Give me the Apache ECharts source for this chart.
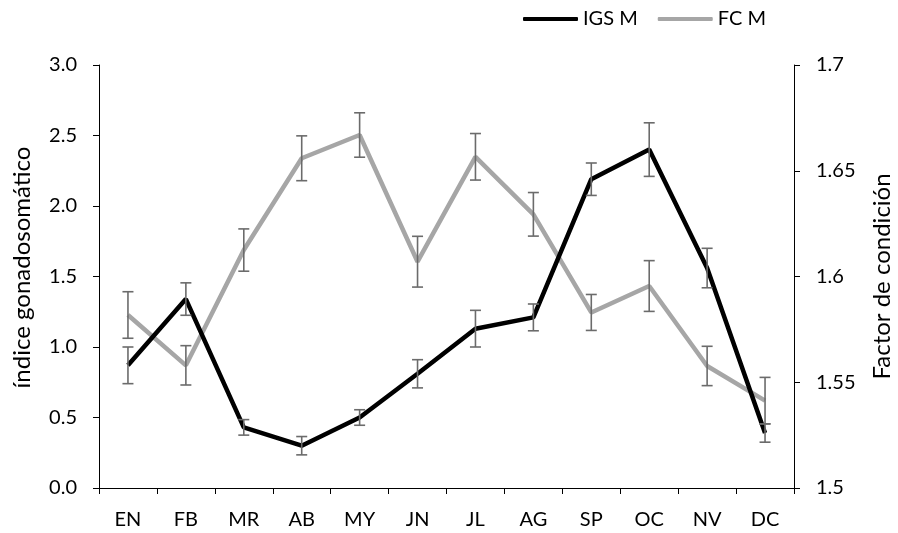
<!DOCTYPE html>
<html><head><meta charset="utf-8">
<script src="https://cdn.jsdelivr.net/npm/echarts@6/dist/echarts.min.js"></script>
<style>html,body{margin:0;padding:0;background:#fff}#c{width:898px;height:533px}</style>
</head><body><div id="c"></div>
<script>
var categories = ['EN','FB','MR','AB','MY','JN','JL','AG','SP','OC','NV','DC'];
var igsValues = [0.87, 1.34, 0.43, 0.30, 0.50, 0.81, 1.13, 1.21, 2.19, 2.40, 1.56, 0.39];
var igsErrors = [0.13, 0.115, 0.055, 0.065, 0.055, 0.10, 0.13, 0.095, 0.115, 0.19, 0.14, 0.065];
var fcValues = [1.5818, 1.558, 1.6125, 1.6559, 1.6669, 1.607, 1.6566, 1.6294, 1.583, 1.5955, 1.5577, 1.5413];
var fcErrors = [0.011, 0.0093, 0.010, 0.0106, 0.0105, 0.012, 0.011, 0.0103, 0.0085, 0.012, 0.0093, 0.011];
var leftTicks = {min: 0, max: 3, interval: 0.5};
var rightTicks = {min: 1.5, max: 1.7, interval: 0.05};

var FONT = 'Lato';
function errData(vals, errs) {
  return vals.map(function (v, i) { return [i, v - errs[i], v + errs[i]]; });
}
function renderErr(params, api) {
  var x = api.value(0);
  var lo = api.coord([x, api.value(1)]);
  var hi = api.coord([x, api.value(2)]);
  var hw = 5.5;
  var st = {stroke: '#6b6b6b', lineWidth: 1.6, fill: null};
  return {type: 'group', children: [
    {type: 'line', shape: {x1: lo[0], y1: lo[1], x2: hi[0], y2: hi[1]}, style: st},
    {type: 'line', shape: {x1: lo[0] - hw, y1: lo[1], x2: lo[0] + hw, y2: lo[1]}, style: st},
    {type: 'line', shape: {x1: hi[0] - hw, y1: hi[1], x2: hi[0] + hw, y2: hi[1]}, style: st}
  ]};
}
var chart = echarts.init(document.getElementById('c'));
chart.setOption({
  animation: false,
  textStyle: {fontFamily: FONT},
  legend: {
    top: 4, left: 518, itemWidth: 55, itemHeight: 4, itemGap: 20,
    icon: 'roundRect',
    textStyle: {fontFamily: FONT, fontSize: 20, color: '#000'},
    data: [{name: 'IGS M'}, {name: 'FC M'}]
  },
  grid: {left: 99, right: 104, top: 65, bottom: 45, containLabel: false, outerBoundsMode: 'none'},
  xAxis: {
    type: 'category', data: categories, boundaryGap: true,
    axisLine: {lineStyle: {color: '#000', width: 1}},
    axisTick: {show: true, alignWithLabel: false, length: 6, lineStyle: {color: '#000'}},
    axisLabel: {color: '#000', fontSize: 20, fontFamily: FONT, margin: 22}
  },
  yAxis: [{
    type: 'value', min: leftTicks.min, max: leftTicks.max, interval: leftTicks.interval,
    name: 'índice gonadosomático', nameLocation: 'middle', nameGap: 65, nameRotate: 90,
    nameTextStyle: {fontSize: 24, color: '#000', fontFamily: FONT, padding: [0, 0, 0, 18]},
    axisLine: {show: true, lineStyle: {color: '#000'}},
    axisTick: {show: true, length: 6, lineStyle: {color: '#000'}},
    splitLine: {show: false},
    axisLabel: {color: '#000', fontSize: 20, fontFamily: FONT, margin: 22,
      formatter: function (v) { return v.toFixed(1); }}
  }, {
    type: 'value', min: rightTicks.min, max: rightTicks.max, interval: rightTicks.interval,
    position: 'right',
    name: 'Factor de condición', nameLocation: 'middle', nameGap: 76, nameRotate: 90,
    nameTextStyle: {fontSize: 24, color: '#000', fontFamily: FONT},
    axisLine: {show: true, lineStyle: {color: '#000'}},
    axisTick: {show: true, length: 6, lineStyle: {color: '#000'}},
    splitLine: {show: false},
    axisLabel: {color: '#000', fontSize: 20, fontFamily: FONT, margin: 22,
      formatter: function (v) { return String(parseFloat(v.toFixed(2))); }}
  }],
  series: [{
    name: 'IGS M', type: 'line', yAxisIndex: 0, data: igsValues,
    symbol: 'none', lineStyle: {color: '#000', width: 4.5}, itemStyle: {color: '#000'}, z: 3
  }, {
    name: 'FC M', type: 'line', yAxisIndex: 1, data: fcValues,
    symbol: 'none', lineStyle: {color: '#a6a6a6', width: 4.5}, itemStyle: {color: '#a6a6a6'}, z: 2
  }, {
    type: 'custom', yAxisIndex: 0, data: errData(igsValues, igsErrors),
    renderItem: renderErr, encode: {x: 0, y: [1, 2]}, z: 5
  }, {
    type: 'custom', yAxisIndex: 1, data: errData(fcValues, fcErrors),
    renderItem: renderErr, encode: {x: 0, y: [1, 2]}, z: 5
  }]
});
</script></body></html>
